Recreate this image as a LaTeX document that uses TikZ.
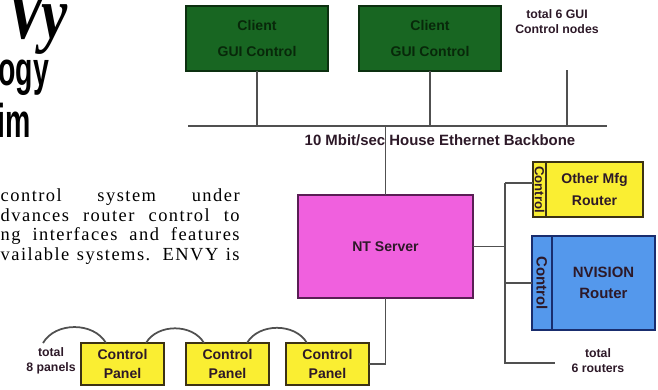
\documentclass[tikz,border=0pt]{standalone}
\usepackage{graphicx}
\usepackage{fontspec}
\setmainfont{Liberation Serif}
\newfontfamily\diafont{Liberation Sans}
\newfontfamily\bodyfont[LetterSpace=8]{Liberation Serif}
\usetikzlibrary{positioning}

\definecolor{guigreen}{RGB}{24,102,34}
\definecolor{guiedge}{RGB}{12,48,16}
\definecolor{guitext}{RGB}{8,40,10}
\definecolor{ntmagenta}{RGB}{240,96,222}
\definecolor{ntedge}{RGB}{90,30,85}
\definecolor{panelyellow}{RGB}{250,238,50}
\definecolor{paneledge}{RGB}{60,50,20}
\definecolor{nvblue}{RGB}{84,152,236}
\definecolor{nvedge}{RGB}{25,45,110}
\definecolor{wirecol}{RGB}{80,80,80}
\definecolor{ink}{RGB}{45,25,40}

\begin{document}
\begin{tikzpicture}[x=0.02cm, y=-0.02cm, node distance=0.4cm,
    every node/.style={font=\diafont\bfseries\fontsize{8}{10}\selectfont, text=ink},
    box/.style={draw, line width=0.9pt, inner sep=0pt, outer sep=0pt, align=center},
    guibox/.style={box, draw=guiedge, fill=guigreen, minimum width=2.84cm, minimum height=1.3cm},
    panelbox/.style={box, draw=paneledge, fill=panelyellow, minimum width=1.66cm, minimum height=0.84cm,
        font=\diafont\bfseries\fontsize{8}{11}\selectfont},
    note/.style={align=center, inner sep=0pt, font=\diafont\bfseries\fontsize{7}{8.5}\selectfont},
    wire/.style={draw=wirecol, line width=1pt},
    body/.style={anchor=base east, inner sep=0pt, text=black, font=\bodyfont\fontsize{10.5}{12}\selectfont},
    logo/.style={inner sep=0pt, text=black}]
    \useasboundingbox (0,0) rectangle (658,389);

    % page text round the figure
    \node[logo, anchor=base west, font=\bfseries\itshape\fontsize{42}{42}\selectfont] (envy) at (6,38) {\scalebox{0.8}[1]{Vy}};
    \node[logo, anchor=base west, font=\diafont\bfseries\fontsize{27}{27}\selectfont] (tech) at (-2,85) {\scalebox{0.6}[1]{ogy}};
    \node[logo, anchor=base west, font=\diafont\bfseries\fontsize{27}{27}\selectfont] (sys) at (-3,137) {\scalebox{0.6}[1]{im}};
    \node[body] (l1) at (240,201) {\makebox[136pt][s]{control system under}};
    \node[body] (l2) at (240,221) {\makebox[136pt][s]{dvances router control to}};
    \node[body] (l3) at (240,240) {\makebox[136pt][s]{ng interfaces and features}};
    \node[body] (l4) at (240,260) {\makebox[136pt][s]{vailable systems. ENVY is}};

    % GUI clients and backbone
    \node[guibox] (gui1) at (257,38.5) {\color{guitext}Client\\[5pt]\color{guitext}GUI Control};
    \node[guibox] (gui2) at (430,38.5) {\color{guitext}Client\\[5pt]\color{guitext}GUI Control};
    \node[note] (guinote) at (557,22) {total 6 GUI\\Control nodes};
    \coordinate (guitop) at (567,70);
    \coordinate (bbL) at (188,126);
    \coordinate (bbR) at (607,126);
    \node[font=\diafont\bfseries\fontsize{8.5}{10}\selectfont, inner sep=0pt] (bblabel) at (440,140) {10 Mbit/sec House Ethernet Backbone};

    % server and routers
    \node[box, draw=ntedge, fill=ntmagenta, minimum width=3.5cm, minimum height=2.06cm] (nt) at (385.5,246.5) {NT Server};
    \node[box, draw=paneledge, fill=panelyellow, minimum width=0.26cm, minimum height=1.1cm,
        font=\diafont\bfseries\fontsize{7.5}{8}\selectfont] (othstrip) at (539.5,189.5) {\rotatebox{-90}{Control}};
    \node[box, draw=paneledge, fill=panelyellow, minimum width=1.94cm, minimum height=1.1cm, right=0pt of othstrip] (othr) {Other Mfg\\[2.5pt]Router};
    \node[box, draw=nvedge, fill=nvblue, minimum width=0.4cm, minimum height=1.88cm,
        font=\diafont\bfseries\fontsize{8.5}{9}\selectfont] (nvstrip) at (542,283) {\rotatebox{-90}{Control}};
    \node[box, draw=nvedge, fill=nvblue, minimum width=2.06cm, minimum height=1.88cm, right=0pt of nvstrip,
        font=\diafont\bfseries\fontsize{8.5}{10}\selectfont] (nvr) {NVISION\\[2pt]Router};
    \coordinate (busT) at (505,183);
    \coordinate (busB) at (505,363);
    \coordinate (rtrend) at (555,363);
    \node[note] (rtrnote) at (598,361) {total\\6 routers};

    % control panels
    \node[panelbox] (cp1) at (122.5,364) {Control\\Panel};
    \node[panelbox, right=0.44cm of cp1] (cp2) {Control\\Panel};
    \node[panelbox, right=0.34cm of cp2] (cp3) {Control\\Panel};
    \node[note] (cpnote) at (51,361) {total\\8 panels};
    \coordinate (cpstart) at (43,343);

    \draw[wire] (bbL) -- (bbR);
    \draw[wire] (gui1) -- (gui1 |- bbL);
    \draw[wire] (gui2) -- (gui2 |- bbL);
    \draw[wire] (guitop) -- (guitop |- bbL);
    \draw[wire] (nt) -- (nt |- bbL);
    \draw[wire] (nt) -- (nt -| busT);
    \draw[wire] (busT) -- (busB) -- (rtrend);
    \draw[wire] (busT) -- (othstrip.west |- busT);
    \draw[wire] (nvstrip) -- (nvstrip -| busT);
    \draw[wire] (nt) |- (cp3);
    \draw[wire] (cpstart) to[out=60,in=120] ([xshift=0.5cm]cp1.north west);
    \draw[wire] ([xshift=-0.36cm]cp1.north east) to[out=60,in=120] ([xshift=0.36cm]cp2.north west);
    \draw[wire] ([xshift=-0.44cm]cp2.north east) to[out=60,in=120] ([xshift=0.42cm]cp3.north west);
\end{tikzpicture}
\end{document}
